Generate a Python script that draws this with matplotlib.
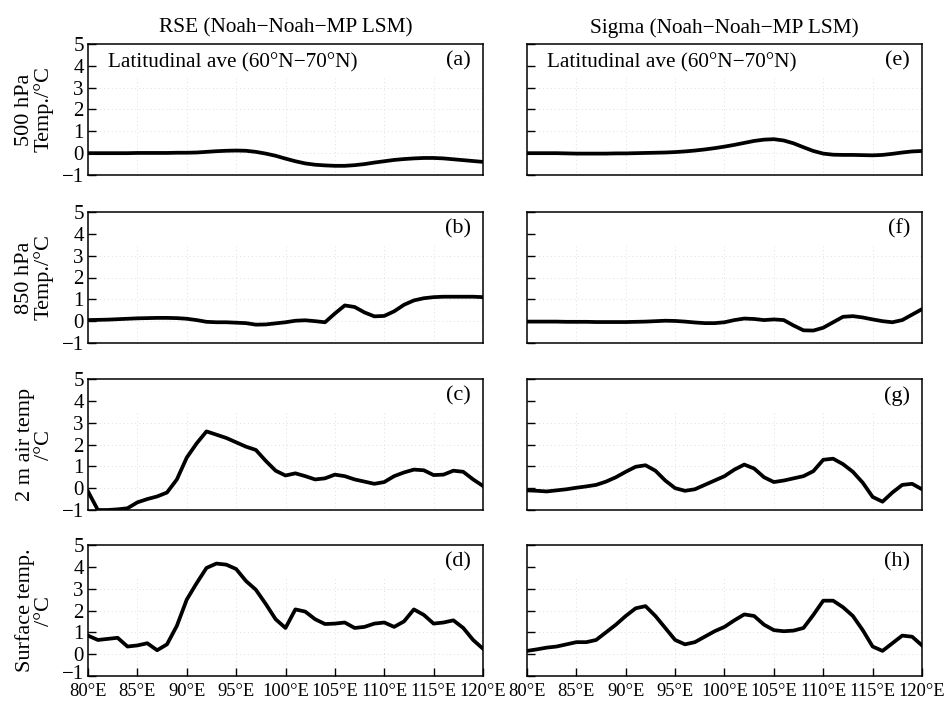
import matplotlib
matplotlib.use('Agg')
import matplotlib.pyplot as plt
import matplotlib.transforms as mtransforms
import numpy as np

plt.rcParams['font.family'] = ['Liberation Serif', 'DejaVu Serif']
plt.rcParams['axes.unicode_minus'] = True

lon = np.arange(80, 121, 1)

# RSE column
rse_500 = [0, 0, 0, 0, 0, 0.01, 0.01, 0.01, 0.01, 0.02, 0.02, 0.03, 0.06, 0.09, 0.11, 0.12,
           0.11, 0.06, -0.02, -0.12, -0.25, -0.37, -0.47, -0.53, -0.56, -0.58, -0.58, -0.55,
           -0.5, -0.43, -0.37, -0.31, -0.27, -0.24, -0.22, -0.22, -0.24, -0.28, -0.32, -0.36, -0.4]
rse_850 = [0.05, 0.06, 0.07, 0.09, 0.11, 0.13, 0.14, 0.15, 0.15, 0.14, 0.11, 0.05, -0.03, -0.05,
           -0.05, -0.07, -0.09, -0.16, -0.15, -0.1, -0.05, 0.02, 0.04, 0.0, -0.05, 0.35, 0.72,
           0.65, 0.4, 0.22, 0.24, 0.45, 0.75, 0.95, 1.05, 1.1, 1.12, 1.12, 1.12, 1.12, 1.1]
rse_t2m = [-0.15, -1.0, -1.0, -0.97, -0.92, -0.65, -0.5, -0.38, -0.2, 0.4, 1.4, 2.05, 2.6, 2.45,
           2.3, 2.1, 1.9, 1.75, 1.25, 0.8, 0.58, 0.68, 0.55, 0.4, 0.45, 0.62, 0.55, 0.4, 0.3,
           0.2, 0.28, 0.55, 0.72, 0.85, 0.82, 0.6, 0.62, 0.8, 0.75, 0.4, 0.1]
rse_sfc = [0.85, 0.65, 0.7, 0.75, 0.35, 0.4, 0.5, 0.18, 0.45, 1.3, 2.5, 3.25, 3.95, 4.15, 4.1,
           3.9, 3.35, 2.95, 2.3, 1.6, 1.2, 2.05, 1.95, 1.6, 1.38, 1.4, 1.45, 1.2, 1.25, 1.4,
           1.45, 1.25, 1.5, 2.05, 1.8, 1.4, 1.45, 1.55, 1.2, 0.65, 0.25]

# Sigma column
sig_500 = [0, 0, 0, 0, -0.01, -0.02, -0.02, -0.02, -0.02, -0.01, -0.01, 0, 0.01, 0.02, 0.03,
           0.05, 0.08, 0.12, 0.17, 0.23, 0.3, 0.38, 0.47, 0.56, 0.62, 0.64, 0.58, 0.45, 0.27,
           0.1, -0.02, -0.07, -0.08, -0.08, -0.09, -0.1, -0.08, -0.03, 0.03, 0.08, 0.1]
sig_850 = [-0.02, -0.02, -0.02, -0.02, -0.03, -0.03, -0.03, -0.04, -0.04, -0.04, -0.04, -0.03,
           -0.02, 0.0, 0.02, 0.01, -0.02, -0.06, -0.09, -0.09, -0.05, 0.05, 0.12, 0.1, 0.05,
           0.08, 0.05, -0.2, -0.42, -0.43, -0.3, -0.05, 0.2, 0.23, 0.17, 0.08, 0.0, -0.05,
           0.05, 0.3, 0.55]
sig_t2m = [-0.1, -0.12, -0.15, -0.1, -0.05, 0.02, 0.08, 0.15, 0.3, 0.5, 0.75, 0.98, 1.05, 0.8,
           0.35, 0.0, -0.12, -0.05, 0.15, 0.35, 0.55, 0.85, 1.08, 0.9, 0.5, 0.28, 0.35, 0.45,
           0.55, 0.78, 1.3, 1.35, 1.1, 0.75, 0.25, -0.4, -0.62, -0.2, 0.15, 0.2, -0.05]
sig_sfc = [0.15, 0.22, 0.3, 0.35, 0.45, 0.55, 0.55, 0.65, 1.0, 1.35, 1.75, 2.1, 2.2, 1.75, 1.2,
           0.65, 0.45, 0.55, 0.8, 1.05, 1.25, 1.55, 1.82, 1.75, 1.35, 1.1, 1.05, 1.08, 1.2,
           1.8, 2.45, 2.45, 2.15, 1.75, 1.1, 0.35, 0.15, 0.5, 0.85, 0.8, 0.4]

col_titles = ['RSE (Noah\u2212Noah\u2212MP LSM)', 'Sigma (Noah\u2212Noah\u2212MP LSM)']
row_labels = ['500 hPa\nTemp./\u00b0C', '850 hPa\nTemp./\u00b0C', '2 m air temp\n/\u00b0C',
              'Surface temp.\n/\u00b0C']
panel_tags = [['(a)', '(b)', '(c)', '(d)'], ['(e)', '(f)', '(g)', '(h)']]
series = [[rse_500, rse_850, rse_t2m, rse_sfc], [sig_500, sig_850, sig_t2m, sig_sfc]]
xticks = np.arange(80, 121, 5)
xticklabels = ['%d\u00b0E' % v for v in xticks]

W, H = 945, 701
fig = plt.figure(figsize=(W / 100, H / 100), dpi=100)

col_x = [(88, 483), (527, 922)]
row_y = [(44, 175), (212, 343), (379, 510), (545, 676)]

for c in range(2):
    x0, x1 = col_x[c]
    for r in range(4):
        y0, y1 = row_y[r]
        ax = fig.add_axes([x0 / W, 1 - y1 / H, (x1 - x0) / W, (y1 - y0) / H])
        ax.plot(lon, series[c][r], color='black', lw=2.7, solid_joinstyle='round')
        ax.set_xlim(80, 120)
        ax.set_ylim(-1, 5)
        ax.set_yticks(range(-1, 6))
        ax.set_xticks(xticks)
        for v in xticks[1:-1]:
            ax.axvline(v, ymin=0.02, ymax=0.75, color='0.88', lw=0.7, ls=(0, (1, 3)), zorder=0)
        for v in [0, 1, 2, 3]:
            ax.axhline(v, color='0.88', lw=0.7, ls=(0, (1, 3)), zorder=0)
        ax.tick_params(direction='in', length=6, width=1.0)
        ax.tick_params(axis='x', top=False, bottom=(r == 3), labelbottom=(r == 3),
                       labelsize=13.3, pad=5)
        if r == 3:
            ax.set_xticklabels(xticklabels)
        ax.tick_params(axis='y', right=False, labelleft=(c == 0), labelsize=15, pad=3)
        for s in ax.spines.values():
            s.set_linewidth(1.1)
        ax.text(0.97, 0.87, panel_tags[c][r], transform=ax.transAxes, fontsize=16,
                ha='right', va='center')
        if r == 0:
            ax.text(0.05, 0.86, 'Latitudinal ave (60\u00b0N\u221270\u00b0N)', transform=ax.transAxes,
                    fontsize=15.3, ha='left', va='center')
            ax.set_title(col_titles[c], fontsize=15.3, pad=8)
        if c == 0:
            ax.set_ylabel(row_labels[r], fontsize=16, linespacing=0.95)
            ax.yaxis.set_label_coords(-0.087, 0.5)
        if c == 0 and r == 3:
            # lift the lowest y label a little so it clears the 80°E label
            lab = ax.get_yticklabels()[0]
            lab.set_transform(lab.get_transform() +
                              mtransforms.ScaledTranslation(0, 3 / 72, fig.dpi_scale_trans))

fig.savefig('out.png', dpi=100)
